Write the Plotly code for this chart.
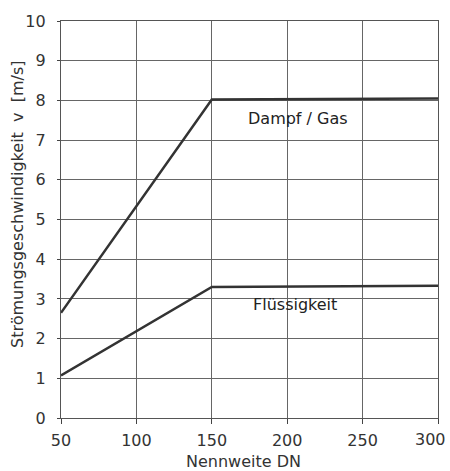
import plotly.graph_objects as go

dn = [50, 150, 300]
v_dampf = [2.65, 8.02, 8.05]
v_fluessig = [1.07, 3.30, 3.33]
x_ticks = [50, 100, 150, 200, 250, 300]
x_ticktext = ["50", "100", "150", "200", "250", ""]
last_x_tick = 300
last_x_label = "300"
y_ticks = list(range(0, 11))

FONT = "DejaVu Sans, Verdana, sans-serif"

fig = go.Figure()
fig.add_trace(go.Scatter(x=dn, y=v_dampf, mode="lines",
                         line=dict(color="#333333", width=2.5), showlegend=False))
fig.add_trace(go.Scatter(x=dn, y=v_fluessig, mode="lines",
                         line=dict(color="#333333", width=2.5), showlegend=False))

fig.add_annotation(x=207, y=7.55, text="Dampf / Gas", showarrow=False,
                   font=dict(size=16, color="#222222"))
fig.add_annotation(x=205.5, y=2.85, text="Flüssigkeit", showarrow=False,
                   font=dict(size=16, color="#222222"))

# last x tick label, kept inside the page like in the reference
fig.add_annotation(x=last_x_tick, xref="x", yref="paper", y=-0.0554, xanchor="right",
                   yanchor="middle", xshift=9.5, text=last_x_label, showarrow=False,
                   font=dict(size=16, color="#333333"))

# axis titles
fig.add_annotation(xref="paper", yref="paper", x=0.485, y=-0.11, yanchor="middle",
                   text="Nennweite DN", showarrow=False,
                   font=dict(size=16, color="#333333"))
fig.add_annotation(xref="paper", yref="paper", x=-0.117, y=0.539, xanchor="center",
                   yanchor="middle", textangle=-90,
                   text="Strömungsgeschwindigkeit  v  [m/s]", showarrow=False,
                   font=dict(size=16, color="#333333"))

fig.update_layout(
    width=450, height=471,
    margin=dict(l=61, r=12, t=21, b=53),
    plot_bgcolor="white", paper_bgcolor="white",
    font=dict(family=FONT, color="#333333", size=16),
    xaxis=dict(range=[50, 300], tickvals=x_ticks, ticktext=x_ticktext,
               showgrid=True, gridcolor="#666666",
               gridwidth=1, showline=True, linecolor="#555555", linewidth=1.2,
               mirror=True, ticks="outside", ticklen=5, tickcolor="#444444",
               zeroline=False, automargin=False, ticklabeloverflow="allow",
               ticklabelstandoff=3),
    yaxis=dict(range=[0, 10], tickvals=y_ticks, showgrid=True, gridcolor="#666666",
               gridwidth=1, showline=True, linecolor="#555555", linewidth=1.2,
               mirror=True, ticks="outside", ticklen=3, tickcolor="#444444",
               zeroline=False, automargin=False, ticklabeloverflow="allow",
               ticklabelstandoff=8),
)

fig.write_html("out.html", config={"displayModeBar": False},
               post_script="document.body.style.margin='0';document.body.style.overflow='hidden';")
